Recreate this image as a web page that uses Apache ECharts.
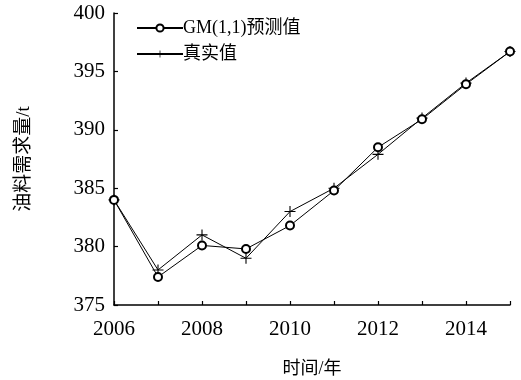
<!DOCTYPE html>
<html><head><meta charset="utf-8">
<script src="https://cdn.jsdelivr.net/npm/echarts@6/dist/echarts.min.js"></script>
<style>html,body{margin:0;padding:0;background:#fff}#c{width:521px;height:380px}</style>
</head><body><div id="c"></div>
<script>
var years = [2006, 2007, 2008, 2009, 2010, 2011, 2012, 2013, 2014, 2015];
var gmValues = [384.0, 377.4, 380.1, 379.8, 381.8, 384.8, 388.5, 390.9, 393.9, 396.7];
var realValues = [384.0, 378.0, 381.0, 379.0, 383.0, 385.0, 387.9, 391.0, 394.0, 396.7];
var seriesNames = ['GM(1,1)预测值', '真实值'];
var xLabelYears = [2006, 2008, 2010, 2012, 2014];

var serif = '"Liberation Serif","DejaVu Serif",serif';
var mixed = '"Liberation Serif","Noto Sans CJK SC",serif';
var plusPath = 'path://M4.5,0H5.5V4.5H10V5.5H5.5V10H4.5V5.5H0V4.5H4.5Z';

var chart = echarts.init(document.getElementById('c'), null, {renderer: 'canvas'});
chart.setOption({
  animation: false,
  backgroundColor: '#fff',
  grid: {left: 114, right: 11, top: 13, bottom: 75, containLabel: false, outerBoundsMode: 'none'},
  legend: {
    orient: 'vertical', left: 131, top: 14, itemWidth: 46, itemHeight: 9, itemGap: 8,
    textStyle: {fontFamily: mixed, fontSize: 18, lineHeight: 18, color: '#000', padding: [0, 0, 0, -5]},
    data: [
      {name: seriesNames[0]},
      {name: seriesNames[1]}
    ]
  },
  xAxis: {
    type: 'value', min: 2006, max: 2015, interval: 1,
    name: '时间/年', nameLocation: 'middle', nameGap: 55,
    nameTextStyle: {fontFamily: mixed, fontSize: 18, color: '#000'},
    axisLine: {lineStyle: {color: '#000', width: 1.5}},
    axisTick: {inside: true, length: 4, lineStyle: {color: '#000', width: 1.2}},
    splitLine: {show: false},
    axisLabel: {
      fontFamily: serif, fontSize: 21, color: '#000', margin: 14,
      formatter: function (v) { return xLabelYears.indexOf(v) >= 0 ? String(v) : ''; }
    }
  },
  yAxis: {
    type: 'value', min: 375, max: 400, interval: 5,
    name: '油料需求量/t', nameLocation: 'middle', nameGap: 80, nameRotate: 90,
    nameTextStyle: {fontFamily: mixed, fontSize: 19, color: '#000'},
    axisLine: {show: true, lineStyle: {color: '#000', width: 1.5}},
    axisTick: {show: true, inside: true, length: 4, lineStyle: {color: '#000', width: 1.2}},
    splitLine: {show: false},
    axisLabel: {fontFamily: serif, fontSize: 21, color: '#000', margin: 9}
  },
  series: [
    {
      name: seriesNames[0], type: 'line',
      data: years.map(function (y, i) { return [y, gmValues[i]]; }),
      symbol: 'emptyCircle', symbolSize: 8,
      lineStyle: {color: '#000', width: 1},
      itemStyle: {color: '#000', borderColor: '#000', borderWidth: 1},
      z: 3
    },
    {
      name: seriesNames[1], type: 'line',
      data: years.map(function (y, i) { return [y, realValues[i]]; }),
      symbol: plusPath, symbolSize: 11,
      lineStyle: {color: '#000', width: 1},
      itemStyle: {color: '#000'},
      z: 2
    }
  ]
});
</script></body></html>
